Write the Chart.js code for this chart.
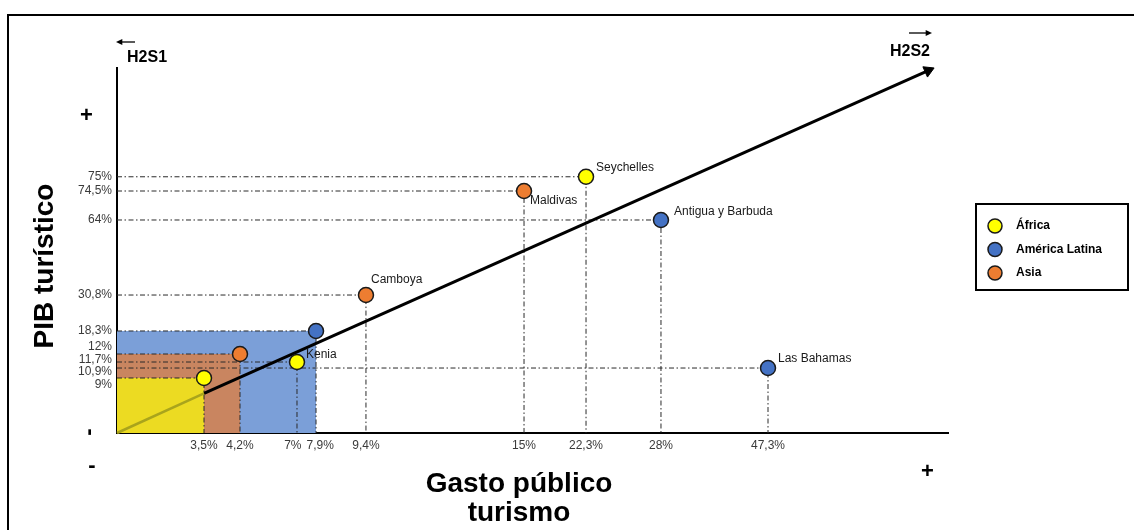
<!DOCTYPE html>
<html>
<head>
<meta charset="utf-8">
<script src="https://cdn.jsdelivr.net/npm/chart.js@4.4.1/dist/chart.umd.min.js"></script>
<style>
  html, body { margin: 0; padding: 0; background: #fff; overflow: hidden; }
  #wrap { position: relative; width: 1134px; height: 530px; overflow: hidden; }
  #frame { position: absolute; left: 7px; top: 14px; width: 1300px; height: 700px; border-left: 2px solid #000; border-top: 2px solid #000; }
  canvas { position: absolute; left: 0; top: 0; }
</style>
</head>
<body>
<div id="wrap"><div id="frame"></div><canvas id="chart" width="1134" height="530"></canvas></div>
<script>
const regions = ['África', 'América Latina', 'Asia'];

const africaNames = ['', 'Kenia', 'Seychelles'];
const africaGasto = [3.5, 7, 22.3];
const africaPib = [9, 11.7, 75];

const latamNames = ['', 'Antigua y Barbuda', 'Las Bahamas'];
const latamGasto = [7.9, 28, 47.3];
const latamPib = [18.3, 64, 10.9];

const asiaNames = ['', 'Camboya', 'Maldivas'];
const asiaGasto = [4.2, 9.4, 15];
const asiaPib = [12, 30.8, 74.5];

const gastoTicks = [3.5, 4.2, 7, 7.9, 9.4, 15, 22.3, 28, 47.3];
const pibTicks = [9, 10.9, 11.7, 12, 18.3, 30.8, 64, 74.5, 75];

// the H2S1 -> H2S2 arrow
const trendGasto = [0, 3.5, 58.6];
const trendPib = [0, 6.5, 99.4];

// both axes are schematic, every marked value has its own stop along the axis (0..1)
const axisStops = {
  x: [[0, 0], [3.5, .1047], [4.2, .148], [7, .2166], [7.9, .2395], [9.4, .2996], [15, .4898], [22.3, .5644], [28, .6546], [47.3, .7834], [60, 1]],
  y: [[0, 0], [9, .1507], [10.9, .178], [11.7, .1945], [12, .2164], [18.3, .2795], [30.8, .378], [64, .5836], [74.5, .663], [75, .702], [100, 1]]
};

const FONT = "'Liberation Sans', Arial, sans-serif";
const pointColors = ['#ffff00', '#4472c4', '#ed7d31'];
const areaColors = ['#ecdb22', '#7b9fd8', '#c98560'];

function lookup(v, stops, from, to) {
  if (v <= stops[0][from]) return stops[0][to];
  for (let i = 1; i < stops.length; i++) {
    const a = stops[i - 1], b = stops[i];
    if (v <= b[from]) return a[to] + (v - a[from]) / (b[from] - a[from]) * (b[to] - a[to]);
  }
  return stops[stops.length - 1][to];
}

class SchematicScale extends Chart.LinearScale {
  static id = 'schematic';
  static defaults = Chart.LinearScale.defaults;
  buildTicks() {
    return (this.id === 'x' ? gastoTicks : pibTicks).map(v => ({ value: v }));
  }
  getPixelForValue(value) {
    return this.getPixelForDecimal(lookup(value, axisStops[this.id], 0, 1));
  }
  getValueForPixel(pixel) {
    return lookup(this.getDecimalForPixel(pixel), axisStops[this.id], 1, 0);
  }
}
Chart.register(SchematicScale);

const fmt = v => String(v).replace('.', ',') + '%';

const groups = [
  { names: africaNames, gasto: africaGasto, pib: africaPib },
  { names: latamNames, gasto: latamGasto, pib: latamPib },
  { names: asiaNames, gasto: asiaGasto, pib: asiaPib }
];

const datasets = [];

// shaded boxes from the origin to each region's lowest point
const boxOrder = [38, 40, 39];
groups.forEach((g, i) => {
  datasets.push({
    type: 'line',
    data: [{ x: 0, y: g.pib[0] }, { x: g.gasto[0], y: g.pib[0] }],
    fill: 'origin',
    backgroundColor: areaColors[i],
    borderWidth: 0,
    pointRadius: 0,
    order: boxOrder[i]
  });
});

// dash-dot guide lines down to both axes
groups.forEach(g => {
  g.gasto.forEach((x, j) => {
    datasets.push({
      type: 'line',
      data: [{ x: 0, y: g.pib[j] }, { x: x, y: g.pib[j] }, { x: x, y: 0 }],
      borderColor: '#2a2a2a',
      borderWidth: 1,
      borderDash: [5, 2.5, 1.5, 2.5],
      pointRadius: 0,
      fill: false,
      order: 20
    });
  });
});

datasets.push({
  type: 'line',
  data: [{ x: trendGasto[0], y: trendPib[0] }, { x: trendGasto[1], y: trendPib[1] }],
  borderColor: '#a9a41c',
  borderWidth: 2.5,
  pointRadius: 0,
  fill: false,
  clip: false,
  order: 10
});

datasets.push({
  type: 'line',
  data: [{ x: trendGasto[1], y: trendPib[1] }, { x: trendGasto[2], y: trendPib[2] }],
  borderColor: '#000',
  borderWidth: 3,
  fill: false,
  clip: false,
  pointStyle: 'triangle',
  pointRadius: c => c.dataIndex === 1 ? 6.5 : 0,
  pointBackgroundColor: '#000',
  pointBorderColor: '#000',
  pointBorderWidth: 1,
  pointRotation: c => {
    const xs = c.chart.scales.x, ys = c.chart.scales.y;
    const dx = xs.getPixelForValue(trendGasto[2]) - xs.getPixelForValue(trendGasto[1]);
    const dy = ys.getPixelForValue(trendPib[2]) - ys.getPixelForValue(trendPib[1]);
    return Math.atan2(dy, dx) * 180 / Math.PI + 90;
  },
  order: 10
});

groups.forEach((g, i) => {
  datasets.push({
    type: 'scatter',
    label: regions[i],
    names: g.names,
    data: g.gasto.map((x, j) => ({ x: x, y: g.pib[j] })),
    pointRadius: 7.5,
    pointBackgroundColor: pointColors[i],
    pointBorderColor: '#1a1a1a',
    pointBorderWidth: 1.5,
    clip: false,
    order: 0
  });
});

// push overlapping labels apart along one direction
function spread(items, gap) {
  const place = g => {
    let off = 0, sum = 0;
    g.list.forEach(it => { sum += it.pos - (off + it.size / 2); off += it.size + gap; });
    g.len = off - gap;
    g.start = sum / g.list.length;
  };
  const gs = items.map(it => ({ list: [it] }));
  gs.forEach(place);
  let merged = true;
  while (merged) {
    merged = false;
    for (let i = 0; i < gs.length - 1; i++) {
      if (gs[i].start + gs[i].len + gap > gs[i + 1].start) {
        gs[i].list = gs[i].list.concat(gs[i + 1].list);
        place(gs[i]);
        gs.splice(i + 1, 1);
        merged = true;
        break;
      }
    }
  }
  gs.forEach(g => {
    let off = g.start;
    g.list.forEach(it => { it.at = off + it.size / 2; off += it.size + gap; });
  });
}

function arrow(ctx, x1, y1, x2, y2, head) {
  const a = Math.atan2(y2 - y1, x2 - x1);
  ctx.beginPath();
  ctx.moveTo(x1, y1);
  ctx.lineTo(x2 - Math.cos(a) * head * 0.8, y2 - Math.sin(a) * head * 0.8);
  ctx.stroke();
  ctx.beginPath();
  ctx.moveTo(x2, y2);
  ctx.lineTo(x2 - head * Math.cos(a - 0.45), y2 - head * Math.sin(a - 0.45));
  ctx.lineTo(x2 - head * Math.cos(a + 0.45), y2 - head * Math.sin(a + 0.45));
  ctx.closePath();
  ctx.fill();
}

const namePlace = { Maldivas: [6, 10], Camboya: [5, -15], Kenia: [9, -7], 'Antigua y Barbuda': [13, -8] };

const decor = {
  id: 'decor',
  afterDatasetsDraw(chart) {
    const ctx = chart.ctx;
    ctx.save();
    ctx.font = '12px ' + FONT;
    ctx.fillStyle = '#1a1a1a';
    ctx.textAlign = 'left';
    ctx.textBaseline = 'middle';
    chart.data.datasets.forEach((ds, di) => {
      if (!ds.names) return;
      const meta = chart.getDatasetMeta(di);
      ds.names.forEach((n, j) => {
        if (!n) return;
        const el = meta.data[j];
        const off = namePlace[n] || [10, -9];
        ctx.fillText(n, el.x + off[0], el.y + off[1]);
      });
    });
    ctx.restore();
  },
  afterDraw(chart) {
    const ctx = chart.ctx;
    const xs = chart.scales.x, ys = chart.scales.y;
    const area = chart.chartArea;
    ctx.save();

    // tick labels
    ctx.font = '12px ' + FONT;
    ctx.fillStyle = '#3a3a3a';
    const yItems = pibTicks.map(v => ({ v: v, pos: ys.getPixelForValue(v), size: 12 }))
      .sort((a, b) => a.pos - b.pos);
    spread(yItems, 0.5);
    ctx.textAlign = 'right';
    ctx.textBaseline = 'middle';
    yItems.forEach(it => ctx.fillText(fmt(it.v), area.left - 5, it.at));

    const xItems = gastoTicks.map(v => ({ v: v, pos: xs.getPixelForValue(v), size: ctx.measureText(fmt(v)).width }))
      .sort((a, b) => a.pos - b.pos);
    spread(xItems, 5);
    ctx.textAlign = 'center';
    xItems.forEach(it => ctx.fillText(fmt(it.v), it.at, area.bottom + 13));

    // axis titles
    ctx.fillStyle = '#000';
    ctx.font = 'bold 28px ' + FONT;
    ctx.textAlign = 'center';
    ctx.textBaseline = 'alphabetic';
    ctx.fillText('Gasto público', 519, 492);
    ctx.fillText('turismo', 519, 521);
    ctx.save();
    ctx.translate(53, 266);
    ctx.rotate(-Math.PI / 2);
    ctx.fillText('PIB turístico', 0, 0);
    ctx.restore();

    // signs
    ctx.font = 'bold 22px ' + FONT;
    ctx.textBaseline = 'middle';
    ctx.fillText('+', 86.5, 116);
    ctx.fillText('+', 927.5, 472);
    ctx.fillText('-', 92, 466);
    ctx.save();
    ctx.translate(89, 432);
    ctx.rotate(-Math.PI / 2);
    ctx.fillText('-', 0, 0);
    ctx.restore();

    // H2S labels
    ctx.font = 'bold 16px ' + FONT;
    ctx.textAlign = 'left';
    ctx.textBaseline = 'alphabetic';
    ctx.fillText('H2S1', 127, 62);
    ctx.textAlign = 'right';
    ctx.fillText('H2S2', 930, 56);
    ctx.strokeStyle = '#000';
    ctx.lineWidth = 1.3;
    arrow(ctx, 135, 42, 116, 42, 7);
    arrow(ctx, 909, 33, 932, 33, 7);

    // legend
    ctx.lineWidth = 2;
    ctx.strokeRect(976, 204, 152, 86);
    ctx.font = 'bold 12px ' + FONT;
    ctx.textAlign = 'left';
    ctx.textBaseline = 'middle';
    regions.forEach((r, i) => {
      const cy = 226 + i * 23.5;
      ctx.beginPath();
      ctx.arc(995, cy, 7, 0, Math.PI * 2);
      ctx.fillStyle = pointColors[i];
      ctx.fill();
      ctx.lineWidth = 1.5;
      ctx.strokeStyle = '#1a1a1a';
      ctx.stroke();
      ctx.fillStyle = '#000';
      ctx.fillText(r, 1016, cy);
    });
    ctx.restore();
  }
};

new Chart(document.getElementById('chart'), {
  type: 'scatter',
  data: { datasets: datasets },
  options: {
    responsive: false,
    animation: false,
    events: [],
    layout: { padding: { left: 117, top: 68, right: 186, bottom: 97 } },
    plugins: { legend: { display: false }, tooltip: { enabled: false } },
    scales: {
      x: {
        type: 'schematic', min: 0, max: 60, z: 1,
        grid: { display: false, drawTicks: false },
        border: { display: true, color: '#000', width: 2 },
        ticks: { display: false },
        afterFit: s => { s.height = 0; }
      },
      y: {
        type: 'schematic', min: 0, max: 100, z: 1,
        grid: { display: false, drawTicks: false },
        border: { display: true, color: '#000', width: 2 },
        ticks: { display: false },
        afterFit: s => { s.width = 0; }
      }
    }
  },
  plugins: [decor]
});
</script>
</body>
</html>
